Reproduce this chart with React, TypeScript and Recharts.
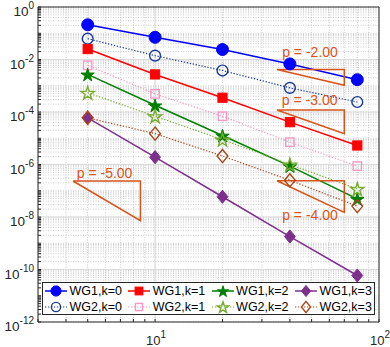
import React from 'react';
import {
  ComposedChart,
  Line,
  XAxis,
  YAxis,
  CartesianGrid,
  ReferenceLine,
  ReferenceDot,
} from 'recharts';

// ---------- data ----------
const meshN = [5, 10, 20, 40, 80];
const wg1k0 = [0.21, 0.07, 0.024, 0.0068, 0.0017];
const wg2k0 = [0.062, 0.014, 0.0038, 8.3e-4, 2.4e-4];
const wg1k1 = [0.025, 2.7e-3, 3.5e-4, 4.1e-5, 5.3e-6];
const wg2k1 = [6.0e-3, 4.9e-4, 6.9e-5, 7.1e-6, 8.7e-7];
const wg1k2 = [2.7e-3, 1.8e-4, 1.27e-5, 8.7e-7, 4.9e-8];
const wg2k2 = [5.4e-4, 6.9e-5, 8.9e-6, 1.0e-6, 1.18e-7];
const wg1k3 = [6.0e-5, 1.9e-6, 5.9e-8, 1.8e-9, 5.9e-11];
const wg2k3 = [6.0e-5, 1.5e-5, 2.1e-6, 2.5e-7, 2.6e-8];

const seriesNames = ['WG1,k=0', 'WG2,k=0', 'WG1,k=1', 'WG2,k=1', 'WG1,k=2', 'WG2,k=2', 'WG1,k=3', 'WG2,k=3'];
const seriesKeys = ['wg1k0', 'wg2k0', 'wg1k1', 'wg2k1', 'wg1k2', 'wg2k2', 'wg1k3', 'wg2k3'];
const seriesValues = [wg1k0, wg2k0, wg1k1, wg2k1, wg1k2, wg2k2, wg1k3, wg2k3];

// slope triangles
const slopeLabels = ['p = -2.00', 'p = -3.00', 'p = -4.00', 'p = -5.00'];
const triLeft = [35, 35, 35, 4.3];
const triRight = [70, 70, 70, 8.6];
const triTop = [4.15e-3, 1.2e-4, 2.41e-7, 2.35e-7];
const triBottom = [1.04e-3, 1.5e-5, 1.5e-8, 7.3e-9];
const labelX = [49.2, 49, 49.2, 5.95];
const labelY = [0.0197, 2.9e-4, 1.18e-8, 4.8e-7];

// axes
const xDomain = [3, 100];
const yDomain = [1e-12, 1];
const xLabelExps = [1, 2];
const yLabelExps = [0, -2, -4, -6, -8, -10, -12];
const yDecades = [-12, -11, -10, -9, -8, -7, -6, -5, -4, -3, -2, -1];
const mantissas = [1, 2, 3, 4, 5, 6, 7, 8, 9];
const xTicks = [3, 4, 5, 6, 7, 8, 9, 10, 20, 30, 40, 50, 60, 70, 80, 90, 100];

// ---------- styles ----------
type Style = { color: string; shape: 'circle' | 'square' | 'star' | 'diamond'; filled: boolean; dotted: boolean };
const styles: Style[] = [
  { color: '#0000FF', shape: 'circle', filled: true, dotted: false },
  { color: '#1B3A98', shape: 'circle', filled: false, dotted: true },
  { color: '#FF0000', shape: 'square', filled: true, dotted: false },
  { color: '#F59AC8', shape: 'square', filled: false, dotted: true },
  { color: '#008000', shape: 'star', filled: true, dotted: false },
  { color: '#77AC30', shape: 'star', filled: false, dotted: true },
  { color: '#7E2F8E', shape: 'diamond', filled: true, dotted: false },
  { color: '#A8461A', shape: 'diamond', filled: false, dotted: true },
];
const TRI_COLOR = '#D95319';
const FONT = "'Liberation Sans', Arial, Helvetica, sans-serif";
const AX = '#262626';

const rows = meshN.map((n, i) => {
  const r: Record<string, number> = { x: n };
  seriesKeys.forEach((k, j) => {
    r[k] = seriesValues[j][i];
  });
  return r;
});

const triData = slopeLabels.map((_, i) => [
  { x: triLeft[i], tri: triTop[i] },
  { x: triRight[i], tri: triTop[i] },
  { x: triRight[i], tri: triBottom[i] },
  { x: triLeft[i], tri: triTop[i] },
]);

const yTicks: number[] = [];
yDecades.forEach((e) => mantissas.forEach((m) => yTicks.push(Number((m * Math.pow(10, e)).toPrecision(3)))));
yTicks.push(1);

const majorY = yLabelExps.filter((e) => e > -12 && e < 0).map((e) => Math.pow(10, e));

function starPath(cx: number, cy: number, R: number) {
  const r = R * 0.382;
  let d = '';
  for (let i = 0; i < 10; i++) {
    const rad = i % 2 === 0 ? R : r;
    const a = -Math.PI / 2 + (i * Math.PI) / 5;
    d += (i === 0 ? 'M' : 'L') + (cx + rad * Math.cos(a)).toFixed(2) + ',' + (cy + rad * Math.sin(a)).toFixed(2);
  }
  return d + 'Z';
}

function Marker({ s, cx, cy, scale = 1 }: { s: Style; cx: number; cy: number; scale?: number }) {
  const fill = s.filled ? s.color : 'none';
  const sw = s.filled ? 1 : 1.4;
  if (s.shape === 'circle') {
    const r = (s.filled ? 6 : 5.4) * scale;
    return <circle cx={cx} cy={cy} r={r} fill={fill} stroke={s.color} strokeWidth={sw} />;
  }
  if (s.shape === 'square') {
    const h = (s.filled ? 4.6 : 4.2) * scale;
    return <rect x={cx - h} y={cy - h} width={2 * h} height={2 * h} fill={fill} stroke={s.color} strokeWidth={sw} />;
  }
  if (s.shape === 'star') {
    return <path d={starPath(cx, cy + 0.8 * scale, 7 * scale)} fill={fill} stroke={s.color} strokeWidth={sw} strokeLinejoin="miter" />;
  }
  const hw = 5.4 * scale;
  const hh = 6.6 * scale;
  return (
    <path
      d={`M${cx},${cy - hh}L${cx + hw},${cy}L${cx},${cy + hh}L${cx - hw},${cy}Z`}
      fill={fill}
      stroke={s.color}
      strokeWidth={sw}
    />
  );
}

const makeDot = (s: Style) => (props: any) => {
  const { cx, cy, index } = props;
  if (cx == null || cy == null) return <g key={`n${index}`} />;
  return (
    <g key={`d${index}`}>
      <Marker s={s} cx={cx} cy={cy} />
    </g>
  );
};

function isPow10(v: number) {
  const e = Math.round(Math.log10(v));
  return Math.abs(v - Math.pow(10, e)) / Math.pow(10, e) < 1e-6 ? e : null;
}

const YTick = (props: any) => {
  const { x, y, payload } = props;
  const e = isPow10(payload.value);
  if (e === null || !yLabelExps.includes(e)) return <g />;
  return (
    <text x={x} y={y + 9.3} textAnchor="end" fill={AX} fontFamily={FONT} fontSize={13.5}>
      10
      <tspan dy={-7.3} fontSize={10}>
        {String(e)}
      </tspan>
    </text>
  );
};

const XTick = (props: any) => {
  const { x, y, payload } = props;
  const e = isPow10(payload.value);
  if (e === null || !xLabelExps.includes(e)) return <g />;
  return (
    <text x={x + 1} y={y + 22.5} textAnchor="middle" fill={AX} fontFamily={FONT} fontSize={13}>
      10
      <tspan dy={-7} fontSize={10}>
        {String(e)}
      </tspan>
    </text>
  );
};

const SlopeText = (text: string) => (props: any) => (
  <text
    x={props.cx}
    y={props.cy}
    textAnchor="middle"
    dominantBaseline="central"
    fill={TRI_COLOR}
    fontFamily={FONT}
    fontSize={14}
  >
    {text}
  </text>
);

function LegendBox() {
  return (
    <div
      style={{
        position: 'absolute',
        left: 42,
        top: 282,
        width: 331,
        height: 31,
        border: `1px solid ${AX}`,
        background: '#fff',
        fontFamily: FONT,
        fontSize: 12.5,
        color: '#000',
      }}
    >
      {seriesNames.map((name, i) => {
        const col = Math.floor(i / 2);
        const row = i % 2;
        const s = styles[i];
        return (
          <div
            key={name}
            style={{
              position: 'absolute',
              left: 2 + col * 83.3,
              top: row * 16,
              height: 16,
              display: 'flex',
              alignItems: 'center',
              whiteSpace: 'nowrap',
            }}
          >
            <svg width={23} height={16} style={{ display: 'block' }}>
              <line
                x1={0}
                y1={8}
                x2={22}
                y2={8}
                stroke={s.color}
                strokeWidth={s.dotted ? 1.2 : 1.5}
                strokeDasharray={s.dotted ? '1.3 1.7' : undefined}
              />
              <Marker s={s} cx={11} cy={8} scale={0.85} />
            </svg>
            <span style={{ marginLeft: 1.5, lineHeight: '16px' }}>{name}</span>
          </div>
        );
      })}
    </div>
  );
}

export default function App() {
  return (
    <div style={{ position: 'absolute', left: 0, top: 0, width: 390, height: 347, background: '#fff' }}>
      <ComposedChart width={390} height={347} data={rows} margin={{ top: 0, right: 0, bottom: 0, left: 0 }}>
        <CartesianGrid stroke="#bfbfbf" strokeDasharray="1 1.5" strokeWidth={0.8} />
        {majorY.map((v) => (
          <ReferenceLine key={`gy${v}`} y={v} stroke="#d9d9d9" strokeWidth={1} />
        ))}
        <ReferenceLine x={10} stroke="#d9d9d9" strokeWidth={1} />
        <XAxis
          dataKey="x"
          type="number"
          scale="log"
          domain={xDomain}
          allowDataOverflow
          ticks={xTicks}
          interval={0}
          height={25}
          tickSize={-3}
          tickMargin={3}
          tick={<XTick />}
          axisLine={{ stroke: AX }}
          tickLine={{ stroke: AX }}
        />
        <XAxis
          xAxisId="top"
          orientation="top"
          dataKey="x"
          type="number"
          scale="log"
          domain={xDomain}
          allowDataOverflow
          ticks={xTicks}
          interval={0}
          height={7}
          tickSize={-3}
          tick={false}
          axisLine={{ stroke: AX }}
          tickLine={{ stroke: AX }}
        />
        <YAxis
          type="number"
          scale="log"
          domain={yDomain}
          allowDataOverflow
          ticks={yTicks}
          interval={0}
          width={38}
          tickSize={-3}
          tickMargin={7}
          tick={<YTick />}
          axisLine={{ stroke: AX }}
          tickLine={{ stroke: AX }}
        />
        <YAxis
          yAxisId="right"
          orientation="right"
          type="number"
          scale="log"
          domain={yDomain}
          allowDataOverflow
          ticks={yTicks}
          interval={0}
          width={11}
          tickSize={-3}
          tick={false}
          axisLine={{ stroke: AX }}
          tickLine={{ stroke: AX }}
        />
        {seriesKeys.map((k, i) => (
          <Line
            key={k}
            dataKey={k}
            name={seriesNames[i]}
            type="linear"
            stroke={styles[i].color}
            strokeWidth={styles[i].dotted ? 1.2 : 1.5}
            strokeDasharray={styles[i].dotted ? '1.3 1.7' : undefined}
            dot={makeDot(styles[i])}
            activeDot={false}
            isAnimationActive={false}
            legendType="none"
          />
        ))}
        {triData.map((d, i) => (
          <Line
            key={`tri${i}`}
            data={d}
            dataKey="tri"
            type="linear"
            stroke={TRI_COLOR}
            strokeWidth={1.5}
            dot={false}
            activeDot={false}
            isAnimationActive={false}
            legendType="none"
          />
        ))}
        {slopeLabels.map((t, i) => (
          <ReferenceDot key={t} x={labelX[i]} y={labelY[i]} r={1} shape={SlopeText(t)} />
        ))}
      </ComposedChart>
      <LegendBox />
    </div>
  );
}
